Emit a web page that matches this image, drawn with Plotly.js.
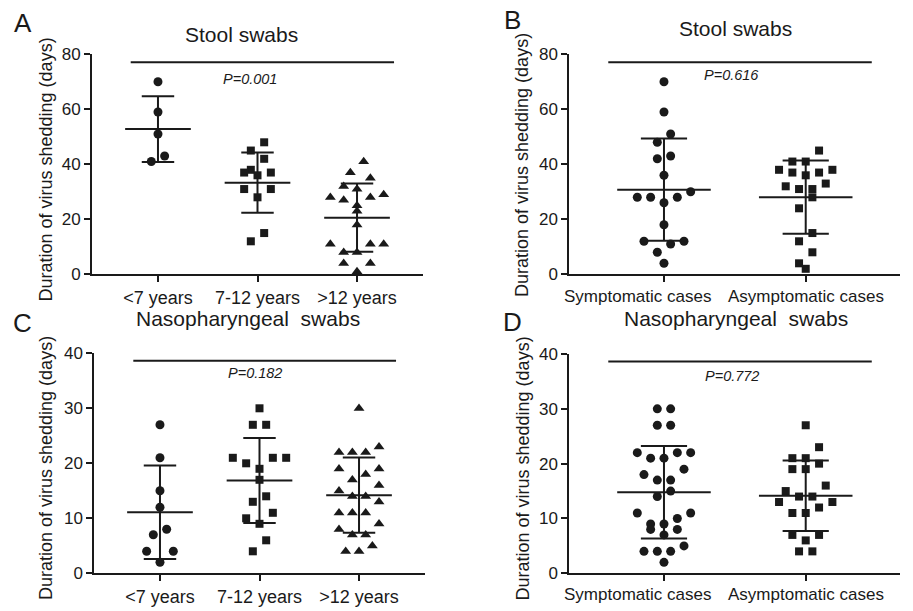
<!DOCTYPE html>
<html><head><meta charset="utf-8">
<script src="https://cdn.plot.ly/plotly-3.0.1.min.js"></script>
<style>html,body{margin:0;padding:0;background:#fff}#chart{width:913px;height:611px}</style>
</head><body><div id="chart"></div>
<script>
// ---------- data ----------
const ageLabels = ['<7 years', '7-12 years', '>12 years'];
const caseLabels = ['Symptomatic cases', 'Asymptomatic cases'];

const stoolUnder7 = [70, 59, 51, 43, 41];
const stool7to12 = [48, 45, 42, 38, 37, 37, 36, 31, 31, 28, 15, 12];
const stoolOver12 = [41, 37, 35, 32, 31, 29, 28, 28, 27, 25, 23, 18, 11, 11, 11, 8, 8, 4, 4, 1];
const stoolSymptomatic = [70, 59, 51, 48, 43, 42, 36, 30, 28, 28, 28, 26, 18, 12, 12, 11, 8, 4];
const stoolAsymptomatic = [45, 41, 41, 38, 38, 37, 37, 36, 33, 32, 31, 31, 28, 24, 15, 12, 8, 4, 2];

const nasoUnder7 = [27, 21, 15, 12, 8, 7, 4, 4, 2];
const naso7to12 = [30, 27, 27, 21, 21, 21, 20, 19, 17, 14, 13, 11, 10, 9, 6, 4];
const nasoOver12 = [30, 23, 22, 22, 22, 19, 19, 18, 17, 16, 15, 14, 14, 13, 11, 11, 11, 9, 8, 7, 7, 5, 4, 4];
const nasoSymptomatic = [30, 30, 27, 27, 22, 22, 22, 21, 21, 19, 18, 17, 17, 15, 14, 11, 11, 10, 9, 9, 8, 8, 7, 5, 4, 4, 4, 2];
const nasoAsymptomatic = [27, 23, 21, 21, 20, 19, 19, 16, 15, 14, 14, 13, 13, 12, 11, 11, 7, 7, 6, 4, 4];

const panelLetters = ['A', 'B', 'C', 'D'];
const panelTitles = ['Stool swabs', 'Stool swabs', 'Nasopharyngeal  swabs', 'Nasopharyngeal  swabs'];
const pLabels = ['P=0.001', 'P=0.616', 'P=0.182', 'P=0.772'];
const yTitle = 'Duration of virus shedding (days)';

// ---------- layout / style ----------
const W = 913, H = 611;
const INK = '#1a1a1a';
const FONT = 'Liberation Sans, Arial, Helvetica, sans-serif';

const panels = [
  { groups: [stoolUnder7, stool7to12, stoolOver12], labels: ageLabels, symbols: ['circle', 'square', 'triangle-up'],
    xd: [92, 423], yd: [54.3, 274.3], xr: [-0.663, 2.663], yr: [0, 80], dtick: 20,
    sig: [-0.274, 2.372, 77.1], p: [0.92, 71], title: [241.5, 34], letter: [23, 23], ytitle: [45, 169.5] },
  { groups: [stoolSymptomatic, stoolAsymptomatic], labels: caseLabels, symbols: ['circle', 'square'],
    xd: [569.3, 900.4], yd: [54.3, 274.3], xr: [-0.668, 1.668], yr: [0, 80], dtick: 20,
    sig: [-0.393, 1.466, 77.1], p: [0.473, 72.5], title: [735, 28], letter: [512, 20], ytitle: [522, 165],
    labelShift: [-0.19, 0], labelY: 296 },
  { groups: [nasoUnder7, naso7to12, nasoOver12], labels: ageLabels, symbols: ['circle', 'square', 'triangle-up'],
    xd: [94.3, 424.7], yd: [353.3, 573.3], xr: [-0.66, 2.66], yr: [0, 40], dtick: 10,
    sig: [-0.268, 2.372, 38.65], p: [0.955, 36.5], title: [248, 318], letter: [22, 323], ytitle: [45.5, 468.5] },
  { groups: [nasoSymptomatic, nasoAsymptomatic], labels: caseLabels, symbols: ['circle', 'square'],
    xd: [569.3, 900.4], yd: [354, 573.3], xr: [-0.668, 1.668], yr: [0, 40], dtick: 10,
    sig: [-0.393, 1.466, 38.65], p: [0.483, 35.9], title: [736, 318], letter: [512, 322], ytitle: [522, 468.5],
    labelShift: [-0.19, 0], labelY: 594 }
];

const markerSize = { 'circle': 9, 'square': 8, 'triangle-up': 9.5 };
const HALF_STEP = 6.67;   // px
const ROW_SPAN = 11.5;    // px

function swarmOffsets(vals, pxPerY) {
  const idx = vals.map((v, i) => i).sort((a, b) => vals[b] - vals[a]);
  const off = new Array(vals.length).fill(0);
  const rows = [];
  let cur = [];
  for (const i of idx) {
    if (cur.length && (vals[cur[0]] - vals[i]) * pxPerY > ROW_SPAN) { rows.push(cur); cur = []; }
    cur.push(i);
  }
  if (cur.length) rows.push(cur);
  rows.forEach(r => {
    const n = r.length;
    const slots = [];
    for (let k = 0; k < n; k++) slots.push((k - (n - 1) / 2) * 2 * HALF_STEP);
    slots.sort((a, b) => (Math.abs(a) - Math.abs(b)) || (a - b));
    const asc = r.slice().sort((a, b) => vals[a] - vals[b]);
    asc.forEach((i, k) => { off[i] = slots[k]; });
  });
  return off;
}

function meanSd(v) {
  const m = v.reduce((a, b) => a + b, 0) / v.length;
  const s = Math.sqrt(v.reduce((a, b) => a + (b - m) * (b - m), 0) / (v.length - 1));
  return [m, s];
}

const traces = [];
const layout = {
  width: W, height: H, margin: { l: 0, r: 0, t: 0, b: 0 },
  paper_bgcolor: '#fff', plot_bgcolor: 'rgba(0,0,0,0)', showlegend: false,
  font: { family: FONT, color: INK }, shapes: [], annotations: []
};

panels.forEach((P, pi) => {
  const n = pi + 1;
  const xa = 'x' + (n === 1 ? '' : n), ya = 'y' + (n === 1 ? '' : n);
  const xKey = 'xaxis' + (n === 1 ? '' : n), yKey = 'yaxis' + (n === 1 ? '' : n);
  const pxPerX = (P.xd[1] - P.xd[0]) / (P.xr[1] - P.xr[0]);
  const pxPerY = (P.yd[1] - P.yd[0]) / (P.yr[1] - P.yr[0]);
  const useAnn = !!P.labelShift;

  layout[xKey] = {
    domain: [P.xd[0] / W, P.xd[1] / W], range: P.xr, anchor: ya,
    showline: true, linewidth: 2, linecolor: INK, ticks: 'outside', ticklen: 6, tickwidth: 2, tickcolor: INK,
    tickvals: P.labels.map((l, i) => i), ticktext: useAnn ? P.labels.map(() => '') : P.labels,
    tickangle: 0, showgrid: false, zeroline: false,
    tickfont: { size: 18, family: FONT, color: INK }, fixedrange: true
  };
  layout[yKey] = {
    domain: [1 - P.yd[1] / H, 1 - P.yd[0] / H], range: P.yr, anchor: xa,
    showline: true, linewidth: 2, linecolor: INK, ticks: 'outside', ticklen: 6, tickwidth: 2, tickcolor: INK,
    tick0: 0, dtick: P.dtick, showgrid: false, zeroline: false,
    tickfont: { size: 17, family: FONT, color: INK }, fixedrange: true
  };

  if (useAnn) {
    P.labels.forEach((lab, i) => {
      layout.annotations.push({
        text: lab, xref: xa, yref: 'paper', x: i + P.labelShift[i], y: 1 - P.labelY / H,
        showarrow: false, xanchor: 'center', yanchor: 'middle', font: { size: 17, family: FONT, color: INK }
      });
    });
  }

  P.groups.forEach((vals, gi) => {
    const off = swarmOffsets(vals, pxPerY);
    const sym = P.symbols[gi];
    traces.push({
      type: 'scatter', mode: 'markers', xaxis: xa, yaxis: ya, cliponaxis: false,
      x: vals.map((v, i) => gi + off[i] / pxPerX), y: vals,
      marker: { symbol: sym, size: markerSize[sym], color: INK, line: { width: 0 } },
      hoverinfo: 'y'
    });
    const [m, s] = meanSd(vals);
    const mw = 0.33, cw = 0.163;
    traces.push({
      type: 'scatter', mode: 'lines', xaxis: xa, yaxis: ya, cliponaxis: false,
      x: [gi - mw, gi + mw, null, gi, gi, null, gi - cw, gi + cw, null, gi - cw, gi + cw],
      y: [m, m, null, m - s, m + s, null, m + s, m + s, null, m - s, m - s],
      line: { color: INK, width: 2 }, hoverinfo: 'skip'
    });
  });

  layout.shapes.push({
    type: 'line', xref: xa, yref: ya, x0: P.sig[0], x1: P.sig[1], y0: P.sig[2], y1: P.sig[2],
    line: { color: INK, width: 2 }
  });

  layout.annotations.push(
    { text: '<i>' + pLabels[pi] + '</i>', xref: xa, yref: ya, x: P.p[0], y: P.p[1],
      showarrow: false, xanchor: 'center', yanchor: 'middle', font: { size: 14.5, family: FONT, color: INK } },
    { text: panelTitles[pi], xref: 'paper', yref: 'paper', x: P.title[0] / W, y: 1 - P.title[1] / H,
      showarrow: false, xanchor: 'center', yanchor: 'middle', font: { size: 21, family: FONT, color: INK } },
    { text: panelLetters[pi], xref: 'paper', yref: 'paper', x: P.letter[0] / W, y: 1 - P.letter[1] / H,
      showarrow: false, xanchor: 'center', yanchor: 'middle', font: { size: 26, family: FONT, color: INK } },
    { text: yTitle, xref: 'paper', yref: 'paper', x: P.ytitle[0] / W, y: 1 - P.ytitle[1] / H, textangle: -90,
      showarrow: false, xanchor: 'center', yanchor: 'middle', font: { size: 18, family: FONT, color: INK } }
  );
});

Plotly.newPlot('chart', traces, layout, { displayModeBar: false, staticPlot: true });
</script>
</body></html>
